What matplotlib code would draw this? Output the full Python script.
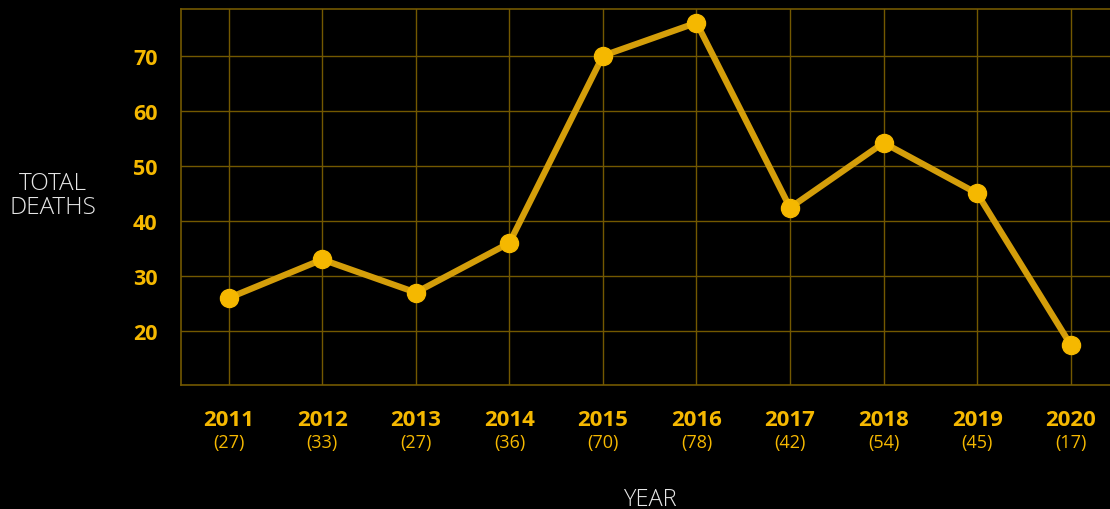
import matplotlib
matplotlib.use("Agg")
import matplotlib.pyplot as plt
import matplotlib.transforms as mtransforms

# data
years = [2011, 2012, 2013, 2014, 2015, 2016, 2017, 2018, 2019, 2020]
deaths_plotted = [26, 33, 27, 36, 70, 76, 42.4, 54.2, 45, 17.5]
deaths_label = [27, 33, 27, 36, 70, 78, 42, 54, 45, 17]
yticks = [20, 30, 40, 50, 60, 70]

gold = "#f5b800"
line_col = "#d49e0a"
grid_col = "#735800"

plt.rcParams['font.family'] = ['Open Sans', 'DejaVu Sans']

fig = plt.figure(figsize=(11.1, 5.1), dpi=100, facecolor="black")
ax = fig.add_axes([181/1110, 124/510, 1 - 181/1110, 376/510])
ax.set_facecolor("black")

ax.plot(years, deaths_plotted, color=line_col, lw=4.5, zorder=3,
        solid_capstyle="round")
ax.plot(years, deaths_plotted, "o", color=gold, ms=13, zorder=4)

ax.set_xlim(2010.49, 2020.42)
ax.set_ylim(10.2, 78.5)
ax.set_yticks(yticks)
ax.set_xticks(years)
ax.grid(True, color=grid_col, lw=1)
ax.set_axisbelow(True)
for side in ["left", "bottom", "top"]:
    ax.spines[side].set_color(grid_col)
    ax.spines[side].set_linewidth(1.2)
ax.spines["right"].set_visible(False)
ax.tick_params(length=0)

ax.set_yticklabels([str(t) for t in yticks], color=gold, fontsize=15.5,
                   fontweight="bold")
ax.tick_params(axis="y", pad=17)
ax.set_xticklabels([str(y) for y in years], color=gold, fontsize=16,
                   fontweight="bold")
ax.tick_params(axis="x", pad=17)

trans = mtransforms.blended_transform_factory(ax.transData, ax.transAxes)
for y, n in zip(years, deaths_label):
    ax.annotate("(%d)" % n, xy=(y, 0), xycoords=trans, xytext=(0, -41),
                textcoords="offset points", ha="center", va="center",
                color=gold, fontsize=13)

fig.text(53/1110, 1 - 196/510, "TOTAL\nDEATHS", color="#e6e6e6", fontsize=17.5,
         ha="center", va="center", linespacing=1.0, fontweight="light")
fig.text(650/1110, 1 - 500/510, "YEAR", color="#e6e6e6", fontsize=17,
         ha="center", va="center", fontweight="light")

fig.savefig("out.png", dpi=100, facecolor="black")
